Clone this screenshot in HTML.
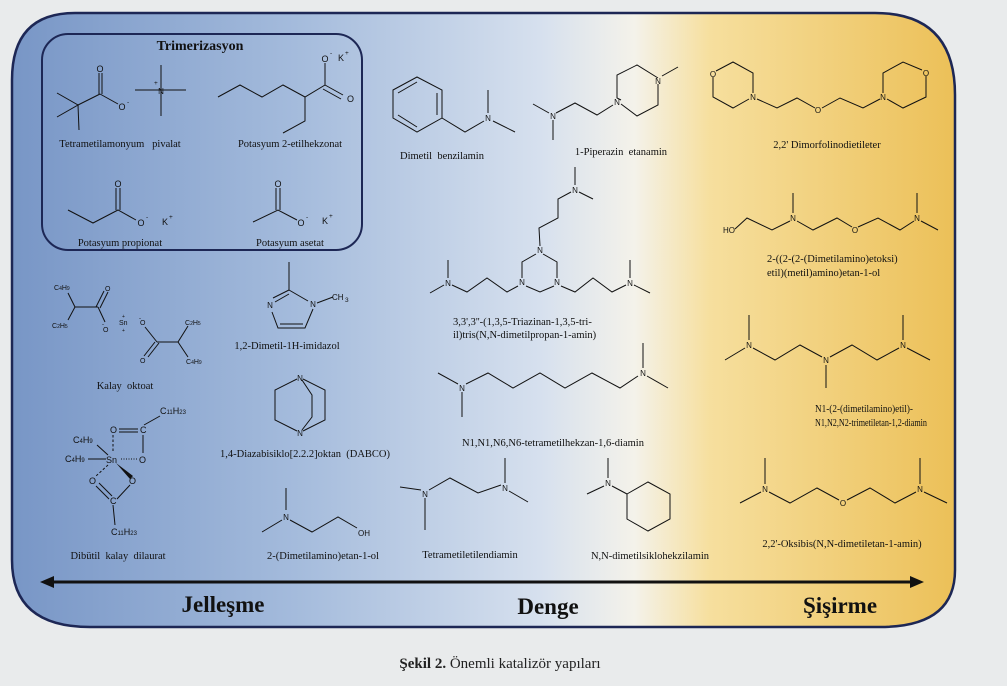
<!DOCTYPE html>
<html><head><meta charset="utf-8"><style>
html,body{margin:0;padding:0;width:1007px;height:686px;overflow:hidden;background:#e8eaeb}
svg{display:block}
.t{font-family:"Liberation Serif",serif;font-size:10.5px;fill:#111}
.a{font-family:"Liberation Sans",sans-serif;font-size:9px;fill:#111}
.s{font-family:"Liberation Sans",sans-serif;font-size:6.5px;fill:#111}
</style></head><body>
<svg width="1007" height="686" viewBox="0 0 1007 686" xmlns="http://www.w3.org/2000/svg">
<defs>
<linearGradient id="g" x1="0" y1="0" x2="1" y2="0" gradientUnits="objectBoundingBox">
<stop offset="0" stop-color="#7896c6"/>
<stop offset="0.3" stop-color="#a4bbdc"/>
<stop offset="0.56" stop-color="#d6e0ee"/>
<stop offset="0.66" stop-color="#f4f2ea"/>
<stop offset="0.74" stop-color="#f6df9e"/>
<stop offset="1" stop-color="#ecc058"/>
</linearGradient>
</defs>
<rect width="1007" height="686" fill="#e9ebec"/>
<path d="M75,13 H875 Q955,13 955,95 V570 Q955,627 880,627 H90 Q12,627 12,560 V80 Q12,13 75,13 Z" fill="url(#g)" stroke="#1d2755" stroke-width="2.5"/>
<rect x="42" y="34" width="320" height="216" rx="26" fill="none" stroke="#1d2755" stroke-width="2"/>
<text x="200" y="50" text-anchor="middle" font-family="Liberation Serif,serif" font-weight="bold" font-size="14" fill="#111">Trimerizasyon</text>

<g stroke="#111" stroke-width="1" fill="none">
<polyline points="57,93 78,105 57,117"/><line x1="78" y1="105" x2="79" y2="130"/>
<line x1="78" y1="105" x2="100" y2="94"/><line x1="99" y1="94" x2="99" y2="73"/><line x1="102" y1="94" x2="102" y2="73"/>
<line x1="100" y1="94" x2="118" y2="104"/>
<line x1="135" y1="90" x2="186" y2="90"/><line x1="161" y1="65" x2="161" y2="116"/>
<polyline points="218,97 240,85 262,97 283,85 305,97 325,85 325,63"/>
<line x1="325" y1="85" x2="343" y2="95"/><line x1="323" y1="89" x2="341" y2="99"/>
<polyline points="305,97 305,121 283,133"/>
<polyline points="68,210 93,223 118,210 136,220"/><line x1="116" y1="210" x2="116" y2="188"/><line x1="120" y1="210" x2="120" y2="188"/>
<polyline points="253,222 278,210 297,220"/><line x1="276" y1="210" x2="276" y2="188"/><line x1="280" y1="210" x2="280" y2="188"/>
<polygon points="393,90 417,77 442,90 442,118 417,132 393,118"/>
<line x1="398" y1="93" x2="417" y2="82"/><line x1="437" y1="93" x2="437" y2="115"/><line x1="398" y1="115" x2="417" y2="127"/>
<polyline points="442,118 465,132 484,121"/><line x1="488" y1="113" x2="488" y2="90"/><line x1="493" y1="121" x2="515" y2="132"/>
<polyline points="621,100 617,98 617,75 637,65 658,78"/><polyline points="658,84 658,105 637,116 621,104"/>
<line x1="662" y1="76" x2="678" y2="67"/>
<polyline points="613,105 597,115 575,103 556,113"/><line x1="553" y1="120" x2="553" y2="140"/><line x1="549" y1="113" x2="533" y2="104"/>
<polyline points="716,71 733,62 753,73 753,93"/><polyline points="749,99 733,108 713,97 713,77"/>
<polyline points="757,99 777,108 797,98 815,108"/><polyline points="822,108 840,98 863,108 880,99"/>
<polyline points="883,93 883,73 903,62 922,70"/><polyline points="926,76 926,97 903,108 887,99"/>
<polyline points="735,229 747,218 772,230 790,221"/><line x1="793" y1="213" x2="793" y2="193"/>
<polyline points="797,221 813,230 837,218 852,227"/><polyline points="858,227 878,218 900,230 914,221"/>
<line x1="917" y1="213" x2="917" y2="193"/><line x1="921" y1="221" x2="938" y2="230"/>
<polyline points="543,254 557,262 557,278"/><polyline points="554,286 540,292 526,286"/><polyline points="522,278 522,262 536,254"/>
<polyline points="540,246 539,228 558,218 558,199 571,192"/><line x1="575" y1="185" x2="575" y2="167"/><line x1="579" y1="192" x2="593" y2="199"/>
<polyline points="518,286 507,292 487,278 467,292 452,285"/><line x1="448" y1="278" x2="448" y2="260"/><line x1="444" y1="285" x2="430" y2="293"/>
<polyline points="561,286 575,292 593,278 612,292 626,285"/><line x1="630" y1="278" x2="630" y2="260"/><line x1="634" y1="285" x2="650" y2="293"/>
<line x1="438" y1="373" x2="458" y2="384"/><line x1="462" y1="392" x2="462" y2="417"/>
<polyline points="466,384 488,373 513,388 540,373 565,388 592,373 620,388 638,376"/>
<line x1="643" y1="368" x2="643" y2="343"/><line x1="647" y1="376" x2="668" y2="388"/>
<line x1="400" y1="487" x2="421" y2="490"/><line x1="425" y1="498" x2="425" y2="530"/>
<polyline points="429,490 450,478 478,493 501,485"/><line x1="505" y1="483" x2="505" y2="458"/><line x1="509" y1="491" x2="528" y2="502"/>
<line x1="608" y1="478" x2="608" y2="458"/><line x1="604" y1="486" x2="587" y2="494"/><line x1="612" y1="486" x2="627" y2="494"/>
<polygon points="627,494 648,482 670,494 670,519 648,531 627,519"/>
<line x1="749" y1="340" x2="749" y2="315"/><line x1="745" y1="348" x2="725" y2="360"/>
<polyline points="753,348 775,360 800,345 822,357"/><line x1="826" y1="365" x2="826" y2="388"/>
<polyline points="830,357 852,345 877,360 899,348"/><line x1="903" y1="340" x2="903" y2="315"/><line x1="907" y1="348" x2="930" y2="360"/>
<line x1="765" y1="484" x2="765" y2="458"/><line x1="761" y1="492" x2="740" y2="503"/>
<polyline points="769,492 790,503 817,488 839,500"/><polyline points="847,500 870,488 895,503 916,492"/>
<line x1="920" y1="484" x2="920" y2="458"/><line x1="924" y1="492" x2="947" y2="503"/>
<polyline points="68,293 75,307 68,320"/><line x1="75" y1="307" x2="98" y2="307"/>
<line x1="96" y1="307" x2="104" y2="291"/><line x1="100" y1="308" x2="108" y2="292"/><line x1="98" y1="307" x2="105" y2="322"/>
<line x1="145" y1="327" x2="157" y2="342"/><line x1="157" y1="342" x2="178" y2="342"/>
<line x1="155" y1="342" x2="144" y2="356"/><line x1="159" y1="343" x2="148" y2="357"/>
<polyline points="188,326 178,342 188,357"/>
<polyline points="289,290 308,301"/><polyline points="313,309 305,328 278,328 272,312"/>
<line x1="273" y1="298" x2="289" y2="290"/><line x1="275" y1="302" x2="289" y2="294"/>
<line x1="280" y1="324" x2="303" y2="324"/>
<line x1="289" y1="290" x2="289" y2="262"/><line x1="317" y1="303" x2="333" y2="297"/>
<polyline points="297,379 275,390 275,420 297,431"/><polyline points="303,379 325,390 325,420 303,431"/>
<polyline points="302,380 312,395 312,417 302,430"/>
<line x1="286" y1="510" x2="286" y2="488"/><line x1="282" y1="520" x2="262" y2="532"/>
<polyline points="290,520 312,532 338,517 357,528"/>
<line x1="97" y1="445" x2="108" y2="455"/><line x1="88" y1="459" x2="106" y2="459"/>
<line x1="119" y1="429" x2="138" y2="429"/><line x1="119" y1="432" x2="138" y2="432"/>
<line x1="144" y1="425" x2="160" y2="416"/><line x1="143" y1="435" x2="143" y2="453"/>
<line x1="113" y1="435" x2="113" y2="453" stroke-dasharray="2.5,2"/>
<line x1="121" y1="459" x2="137" y2="459" stroke-dasharray="1,1.5"/>
<line x1="108" y1="465" x2="96" y2="476" stroke-dasharray="2.5,2"/>
<line x1="96" y1="486" x2="109" y2="499"/><line x1="99" y1="483" x2="112" y2="496"/>
<line x1="130" y1="485" x2="117" y2="499"/>
<line x1="113" y1="505" x2="115" y2="525"/>
</g>
<polygon points="116,463 133,476 130,479" fill="#111"/>

<g class="a">
<text x="100" y="72" text-anchor="middle">O</text>
<text x="122" y="110" text-anchor="middle">O</text><text x="127" y="104" class="s">-</text>
<text x="161" y="94" text-anchor="middle" font-size="8">N</text><text x="154" y="85" class="s">+</text>
<text x="325" y="62" text-anchor="middle">O</text><text x="330" y="55" class="s">-</text>
<text x="338" y="61">K</text><text x="345" y="55" class="s">+</text>
<text x="347" y="102">O</text>
<text x="118" y="187" text-anchor="middle">O</text>
<text x="141" y="226" text-anchor="middle">O</text><text x="146" y="219" class="s">-</text>
<text x="162" y="225">K</text><text x="169" y="219" class="s">+</text>
<text x="278" y="187" text-anchor="middle">O</text>
<text x="301" y="226" text-anchor="middle">O</text><text x="306" y="219" class="s">-</text>
<text x="322" y="224">K</text><text x="329" y="218" class="s">+</text>
<g font-size="8">
<text x="488" y="121" text-anchor="middle">N</text>
<text x="658" y="84" text-anchor="middle">N</text><text x="617" y="105" text-anchor="middle">N</text><text x="553" y="119" text-anchor="middle">N</text>
<text x="713" y="77" text-anchor="middle">O</text><text x="753" y="100" text-anchor="middle">N</text><text x="818" y="113" text-anchor="middle">O</text><text x="883" y="100" text-anchor="middle">N</text><text x="926" y="76" text-anchor="middle">O</text>
<text x="729" y="233" text-anchor="middle">HO</text><text x="793" y="221" text-anchor="middle">N</text><text x="855" y="233" text-anchor="middle">O</text><text x="917" y="221" text-anchor="middle">N</text>
<text x="540" y="253" text-anchor="middle">N</text><text x="557" y="285" text-anchor="middle">N</text><text x="522" y="285" text-anchor="middle">N</text>
<text x="575" y="193" text-anchor="middle">N</text><text x="448" y="286" text-anchor="middle">N</text><text x="630" y="286" text-anchor="middle">N</text>
<text x="462" y="391" text-anchor="middle">N</text><text x="643" y="376" text-anchor="middle">N</text>
<text x="425" y="497" text-anchor="middle">N</text><text x="505" y="491" text-anchor="middle">N</text><text x="608" y="486" text-anchor="middle">N</text>
<text x="749" y="348" text-anchor="middle">N</text><text x="826" y="363" text-anchor="middle">N</text><text x="903" y="348" text-anchor="middle">N</text>
<text x="765" y="492" text-anchor="middle">N</text><text x="843" y="506" text-anchor="middle">O</text><text x="920" y="492" text-anchor="middle">N</text>
<text x="270" y="308" text-anchor="middle">N</text><text x="313" y="307" text-anchor="middle">N</text>
<text x="332" y="300">CH</text><text x="345" y="302" class="s">3</text>
<text x="300" y="381" text-anchor="middle">N</text><text x="300" y="436" text-anchor="middle">N</text>
<text x="286" y="520" text-anchor="middle">N</text>
<text x="358" y="536">OH</text>
</g>
<g font-size="7">
<text x="54" y="290">C<tspan font-size="5">4</tspan>H<tspan font-size="5">9</tspan></text>
<text x="52" y="328">C<tspan font-size="5">2</tspan>H<tspan font-size="5">5</tspan></text>
<text x="105" y="291">O</text><text x="103" y="332">O</text><text x="102" y="326" font-size="6">-</text>
<text x="119" y="325">Sn</text><text x="122" y="318" font-size="5">+</text><text x="122" y="332" font-size="5">+</text>
<text x="140" y="325">O</text><text x="139" y="320" font-size="6">-</text>
<text x="140" y="363">O</text>
<text x="185" y="325">C<tspan font-size="5">2</tspan>H<tspan font-size="5">5</tspan></text>
<text x="186" y="364">C<tspan font-size="5">4</tspan>H<tspan font-size="5">9</tspan></text>
</g>
<g font-size="9">
<text x="160" y="414">C<tspan font-size="6">11</tspan>H<tspan font-size="6">23</tspan></text>
<text x="110" y="433">O</text><text x="140" y="433">C</text>
<text x="73" y="443">C<tspan font-size="6">4</tspan>H<tspan font-size="6">9</tspan></text>
<text x="65" y="462">C<tspan font-size="6">4</tspan>H<tspan font-size="6">9</tspan></text>
<text x="106" y="463">Sn</text><text x="139" y="463">O</text>
<text x="89" y="484">O</text><text x="129" y="484">O</text>
<text x="110" y="504">C</text>
<text x="111" y="535">C<tspan font-size="6">11</tspan>H<tspan font-size="6">23</tspan></text>
</g>
</g>

<g class="t">
<text x="120" y="147" text-anchor="middle" xml:space="preserve">Tetrametilamonyum   pivalat</text>
<text x="290" y="147" text-anchor="middle">Potasyum 2-etilhekzonat</text>
<text x="120" y="246" text-anchor="middle">Potasyum propionat</text>
<text x="290" y="246" text-anchor="middle">Potasyum asetat</text>
<text x="442" y="159" text-anchor="middle" xml:space="preserve">Dimetil  benzilamin</text>
<text x="621" y="155" text-anchor="middle" xml:space="preserve">1-Piperazin  etanamin</text>
<text x="827" y="148" text-anchor="middle">2,2' Dimorfolinodietileter</text>
<text x="767" y="262">2-((2-(2-(Dimetilamino)etoksi)</text>
<text x="767" y="276">etil)(metil)amino)etan-1-ol</text>
<text x="453" y="325">3,3',3''-(1,3,5-Triazinan-1,3,5-tri-</text>
<text x="453" y="338">il)tris(N,N-dimetilpropan-1-amin)</text>
<text x="815" y="412" textLength="98" lengthAdjust="spacingAndGlyphs">N1-(2-(dimetilamino)etil)-</text>
<text x="815" y="426" textLength="112" lengthAdjust="spacingAndGlyphs">N1,N2,N2-trimetiletan-1,2-diamin</text>
<text x="125" y="389" text-anchor="middle" xml:space="preserve">Kalay  oktoat</text>
<text x="287" y="349" text-anchor="middle">1,2-Dimetil-1H-imidazol</text>
<text x="305" y="457" text-anchor="middle" xml:space="preserve">1,4-Diazabisiklo[2.2.2]oktan  (DABCO)</text>
<text x="553" y="446" text-anchor="middle">N1,N1,N6,N6-tetrametilhekzan-1,6-diamin</text>
<text x="118" y="559" text-anchor="middle" xml:space="preserve">Dibütil  kalay  dilaurat</text>
<text x="323" y="559" text-anchor="middle">2-(Dimetilamino)etan-1-ol</text>
<text x="470" y="558" text-anchor="middle">Tetrametiletilendiamin</text>
<text x="650" y="559" text-anchor="middle">N,N-dimetilsiklohekzilamin</text>
<text x="842" y="547" text-anchor="middle">2,2'-Oksibis(N,N-dimetiletan-1-amin)</text>
</g>

<line x1="48" y1="582" x2="916" y2="582" stroke="#111" stroke-width="3"/>
<polygon points="40,582 54,576 54,588" fill="#111"/>
<polygon points="924,582 910,576 910,588" fill="#111"/>
<g font-family="Liberation Serif,serif" font-weight="bold" font-size="23" fill="#111" text-anchor="middle">
<text x="223" y="612">Jelleşme</text>
<text x="548" y="614">Denge</text>
<text x="840" y="613">Şişirme</text>
</g>
<text x="500" y="668" text-anchor="middle" font-family="Liberation Serif,serif" font-size="15" fill="#222"><tspan font-weight="bold">Şekil 2.</tspan> Önemli katalizör yapıları</text>
</svg>
</body></html>
